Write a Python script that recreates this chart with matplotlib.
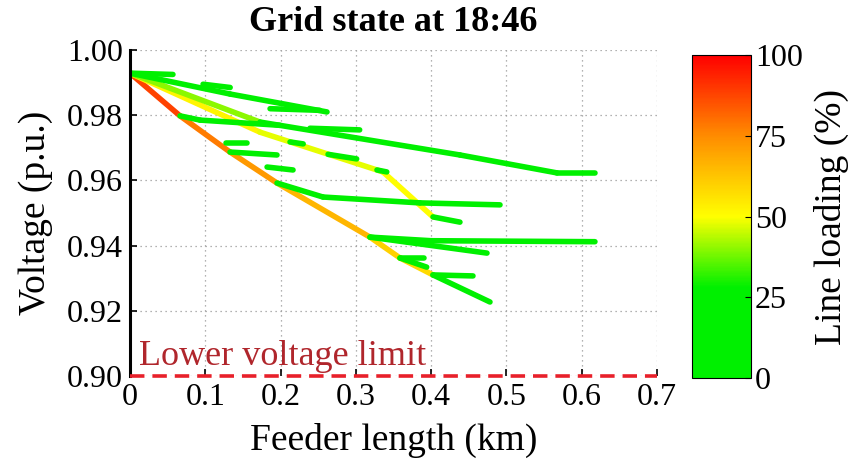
import matplotlib
matplotlib.use("Agg")
import matplotlib.pyplot as plt
from matplotlib.collections import LineCollection
from matplotlib.colors import LinearSegmentedColormap, Normalize
from matplotlib.cm import ScalarMappable

plt.rcParams['font.family'] = ['Liberation Serif', 'DejaVu Serif']

title = "Grid state at 18:46"
x_ticks = [0, 0.1, 0.2, 0.3, 0.4, 0.5, 0.6, 0.7]
x_tick_labels = ["0", "0.1", "0.2", "0.3", "0.4", "0.5", "0.6", "0.7"]
y_ticks = [0.90, 0.92, 0.94, 0.96, 0.98, 1.00]
y_tick_labels = ["0.90", "0.92", "0.94", "0.96", "0.98", "1.00"]
cbar_ticks = [0, 25, 50, 75, 100]
v_limit = 0.90

# Feeder paths: distance from substation (km), node voltage (p.u.),
# and loading (%) of each line segment between consecutive nodes.
trunk_km = [0, 0.0664, 0.1328, 0.1952, 0.3187, 0.3586, 0.4024, 0.4781]
trunk_v = [0.9929, 0.9798, 0.9687, 0.9592, 0.9426, 0.9362, 0.9310, 0.9227]
trunk_load = [88, 78, 72, 66, 60, 58, 22]

yellow_km = [0, 0.1726, 0.3360, 0.4024, 0.4382]
yellow_v = [0.9929, 0.9748, 0.9626, 0.9488, 0.9472]
yellow_load = [52, 48, 50, 22]

long_km = [0, 0.1726, 0.4382, 0.5671, 0.6175]
long_v = [0.9929, 0.9779, 0.9678, 0.9623, 0.9623]
long_load = [40, 20, 18, 10]

top_km = [0, 0.1328, 0.2616]
top_v = [0.9929, 0.9865, 0.9810]
top_load = [26, 20]

mid_km = [0.1952, 0.2563, 0.3851, 0.4914]
mid_v = [0.9592, 0.9549, 0.9531, 0.9525]
mid_load = [22, 18, 10]

low_km = [0.3187, 0.4000, 0.6175]
low_v = [0.9426, 0.9415, 0.9412]
low_load = [20, 12]

low2_km = [0.3187, 0.4741]
low2_v = [0.9426, 0.9377]
low2_load = [22]

lateral_km = [0.0664, 0.0930, 0.1990]
lateral_v = [0.9798, 0.9785, 0.9769]
lateral_load = [18, 15]

# Short laterals: (start km, start V, end km, end V, loading %)
stub_km0 = [0.000, 0.097, 0.186, 0.1328, 0.182, 0.128, 0.263, 0.328, 0.2125, 0.239, 0.3586, 0.3586, 0.4024]
stub_v0 = [0.9929, 0.9895, 0.9820, 0.9687, 0.9641, 0.9714, 0.9680, 0.9632, 0.9718, 0.9760, 0.9362, 0.9362, 0.9310]
stub_km1 = [0.057, 0.133, 0.252, 0.1952, 0.2165, 0.155, 0.301, 0.341, 0.230, 0.305, 0.3940, 0.3900, 0.4555]
stub_v1 = [0.9925, 0.9885, 0.9815, 0.9678, 0.9632, 0.9714, 0.9666, 0.9626, 0.9712, 0.9755, 0.9334, 0.9362, 0.9307]
stub_load = [20, 18, 15, 15, 15, 15, 15, 15, 15, 15, 18, 15, 15]

paths = [
    (trunk_km, trunk_v, trunk_load),
    (yellow_km, yellow_v, yellow_load),
    (long_km, long_v, long_load),
    (top_km, top_v, top_load),
    (mid_km, mid_v, mid_load),
    (low_km, low_v, low_load),
    (low2_km, low2_v, low2_load),
    (lateral_km, lateral_v, lateral_load),
]

segments, loads = [], []
for km, v, ld in paths:
    for i in range(len(ld)):
        segments.append([(km[i], v[i]), (km[i + 1], v[i + 1])])
        loads.append(ld[i])
for a, b, c, d, ld in zip(stub_km0, stub_v0, stub_km1, stub_v1, stub_load):
    segments.append([(a, b), (c, d)])
    loads.append(ld)

cmap = LinearSegmentedColormap.from_list(
    "loading",
    [(0.0, "#00f000"), (0.28, "#00f000"), (0.5, "#ffff00"),
     (0.75, "#ff8c00"), (1.0, "#ff0000")])
norm = Normalize(0, 100)

fig = plt.figure(figsize=(8.51, 4.70), dpi=100)
ax = fig.add_axes([0.1528, 0.200, 0.6193, 0.6936])

ax.grid(True, linestyle=(0, (1, 3)), color="#999999", linewidth=0.9)
ax.set_axisbelow(True)

lc = LineCollection(segments, cmap=cmap, norm=norm, linewidths=4.0,
                    capstyle="round", joinstyle="round")
lc.set_array(loads)
ax.add_collection(lc)

ax.axhline(v_limit, color="#e8202a", linewidth=2.6, linestyle=(0, (4, 2.2)),
           zorder=3, clip_on=False)
ax.text(0.012, v_limit + 0.0008, "Lower voltage limit", color="#b0262c",
        fontsize=26, va="bottom", ha="left")

ax.set_xlim(0, 0.7)
ax.set_ylim(0.90, 1.00)
ax.set_xticks(x_ticks, x_tick_labels)
ax.set_yticks(y_ticks, y_tick_labels)
ax.tick_params(direction="in", length=5, width=1.2, labelsize=23, pad=5)
for s in ["top", "right", "bottom"]:
    ax.spines[s].set_visible(False)
ax.spines["left"].set_linewidth(2.2)

ax.set_xlabel("Feeder length (km)", fontsize=27, labelpad=8)
ax.set_ylabel("Voltage (p.u.)", fontsize=27, labelpad=10)
ax.set_title(title, fontsize=26, fontweight="bold", pad=14)

cax = fig.add_axes([0.8131, 0.1957, 0.0693, 0.6872])
sm = ScalarMappable(norm=norm, cmap=cmap)
cb = fig.colorbar(sm, cax=cax, ticks=cbar_ticks)
cb.outline.set_linewidth(0.8)
cb.ax.tick_params(direction="in", length=4, labelsize=23, pad=3)
cb.set_label("Line loading (%)", fontsize=27, labelpad=8)

fig.savefig("out.png", dpi=100)
